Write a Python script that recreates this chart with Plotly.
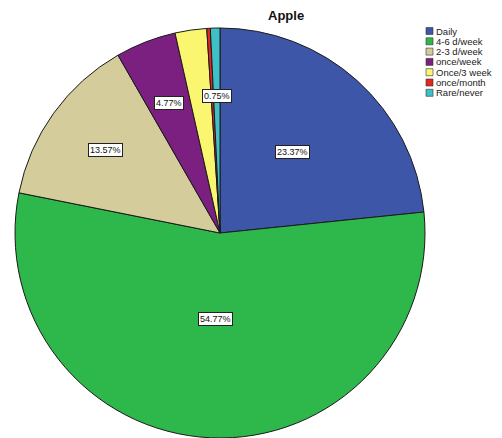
import math
import plotly.graph_objects as go

# Frequency of apple consumption (% of respondents)
categories = ["Daily", "4-6 d/week", "2-3 d/week", "once/week",
              "Once/3 week", "once/month", "Rare/never"]
percents = [23.37, 54.77, 13.57, 4.77, 2.49, 0.28, 0.75]
slice_labels = ["23.37%", "54.77%", "13.57%", "4.77%", "", "", "0.75%"]
title_text = "Apple"

colors = ["#3E56A8", "#2EB84B", "#D4CD9B", "#7B1F80",
          "#FBF66F", "#E3261F", "#3FC0C6"]

W, H = 502, 438
# pie domain in pixels (left, right, top, bottom)
px_l, px_r, px_t, px_b = 15, 425, 28, 438
dom_x = [px_l / W, px_r / W]
dom_y = [1 - px_b / H, 1 - px_t / H]

fig = go.Figure(go.Pie(
    labels=categories,
    values=percents,
    sort=False,
    direction="clockwise",
    rotation=0,
    marker=dict(colors=colors, line=dict(color="#1a1a1a", width=1)),
    textinfo="none",
    hoverinfo="label+percent",
    showlegend=False,
    domain=dict(x=dom_x, y=dom_y),
))

# percentage boxes placed along each slice's bisector
cx = (px_l + px_r) / 2
cy = (px_t + px_b) / 2
R = min(px_r - px_l, px_b - px_t) / 2
radius_frac = [0.53, 0.42, 0.69, 0.68, 0.6, 0.6, 0.67]
total = sum(percents)
annotations = []
cum = 0.0
for val, txt, rf in zip(percents, slice_labels, radius_frac):
    mid = (cum + val / 2) / total * 2 * math.pi
    cum += val
    if not txt:
        continue
    x = cx + rf * R * math.sin(mid)
    y = cy - rf * R * math.cos(mid)
    annotations.append(dict(
        x=x / W, y=1 - y / H, xref="paper", yref="paper",
        text=txt, showarrow=False,
        font=dict(family="Liberation Sans, Arial", size=9, color="#111"),
        bgcolor="white", bordercolor="#222", borderwidth=1, borderpad=1,
        xanchor="center", yanchor="middle",
    ))

# compact legend: swatches and names
shapes = []
leg_x, leg_y0, leg_step, sw = 426, 31, 10.3, 7
for i, (name, col) in enumerate(zip(categories, colors)):
    yc = leg_y0 + i * leg_step
    shapes.append(dict(
        type="rect", xref="paper", yref="paper",
        x0=leg_x / W, x1=(leg_x + sw) / W,
        y0=1 - (yc + sw / 2) / H, y1=1 - (yc - sw / 2) / H,
        fillcolor=col, line=dict(color="#333", width=0.6),
    ))
    annotations.append(dict(
        x=(leg_x + sw + 1) / W, y=1 - yc / H, xref="paper", yref="paper",
        text=name, showarrow=False, xanchor="left", yanchor="middle",
        font=dict(family="Liberation Sans, Arial", size=9.5, color="#222"),
    ))

annotations.append(dict(
    x=286 / W, y=1 - 15 / H, xref="paper", yref="paper",
    text="<b>" + title_text + "</b>", showarrow=False,
    xanchor="center", yanchor="middle",
    font=dict(family="Liberation Sans, Arial", size=13, color="#111"),
))

fig.update_layout(
    width=W, height=H,
    margin=dict(l=0, r=0, t=0, b=0),
    paper_bgcolor="white", plot_bgcolor="white",
    annotations=annotations, shapes=shapes,
)

fig.write_html("out.html")
